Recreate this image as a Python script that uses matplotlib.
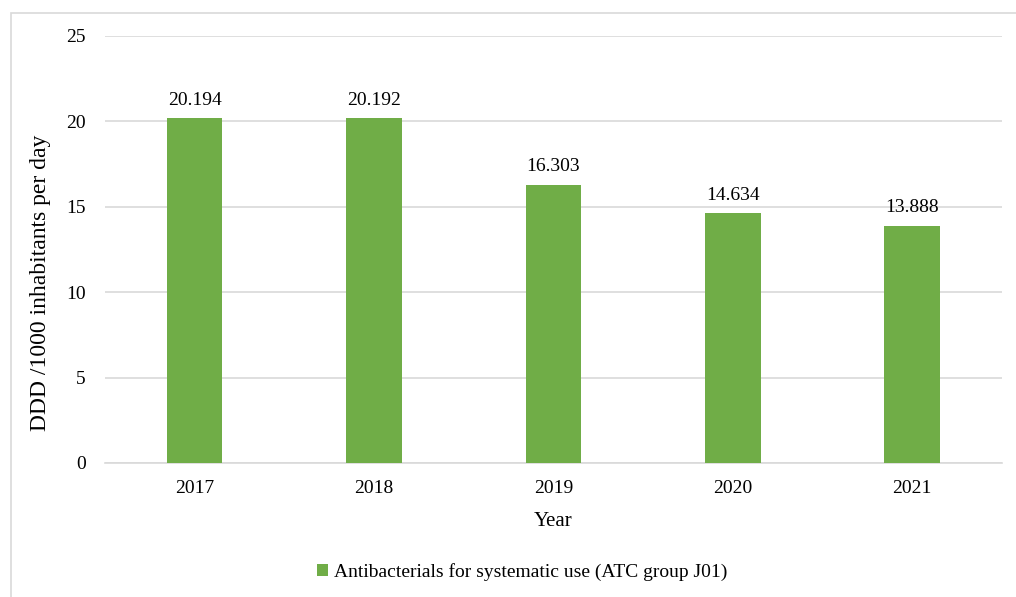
import numpy as np
import matplotlib.pyplot as plt
from matplotlib.patches import Rectangle

years = ['2017', '2018', '2019', '2020', '2021']
ddd = [20.194, 20.192, 16.303, 14.634, 13.888]
series_name = 'Antibacterials for systematic use (ATC group J01)'

plt.rcParams['font.family'] = ['Liberation Serif', 'DejaVu Serif']

fig = plt.figure(figsize=(10.16, 5.97), dpi=100)
ax = fig.add_axes([0.1033, 0.2245, 0.8827, 0.7152])

# outer frame around the chart area
fig.patches.append(Rectangle((11 / 1016, -0.05), 1.1, 1 - 13 / 597 + 0.05,
                             transform=fig.transFigure, fill=False,
                             edgecolor='#d9d9d9', linewidth=1.2))

x = np.arange(len(years))
bars = ax.bar(x, ddd, width=0.31, color='#70ad47', label=series_name, zorder=3)
for b, v in zip(bars, ddd):
    ax.text(b.get_x() + b.get_width() / 2, v + 0.55, f'{v:.3f}',
            ha='center', va='bottom', fontsize=14)

ax.set_xlim(-0.5, len(years) - 0.5)
ax.set_ylim(0, 25)
ax.set_yticks(np.arange(0, 26, 5))
ax.set_xticks(x)
ax.set_xticklabels(years)
ax.tick_params(axis='both', length=0, labelsize=14)
ax.tick_params(axis='y', pad=14)
ax.tick_params(axis='x', pad=12)
ax.grid(axis='y', color='#d9d9d9', linewidth=1.2, zorder=0)
for s in ['top', 'right', 'left']:
    ax.spines[s].set_visible(False)
ax.spines['bottom'].set_color('#d9d9d9')
ax.spines['bottom'].set_linewidth(1.2)

ax.set_xlabel('Year', fontsize=15, labelpad=11)
fig.text(41 / 1016, 1 - 283 / 597, 'DDD /1000 inhabitants per day',
         rotation=90, ha='center', va='center', fontsize=17)

fig.legend(handles=[bars], labels=[series_name], loc='center',
           bbox_to_anchor=(0.514, 1 - 572 / 597), frameon=False, fontsize=14,
           handlelength=0.6, handleheight=0.6, handletextpad=0.3)

fig.savefig('out.png', dpi=100)
